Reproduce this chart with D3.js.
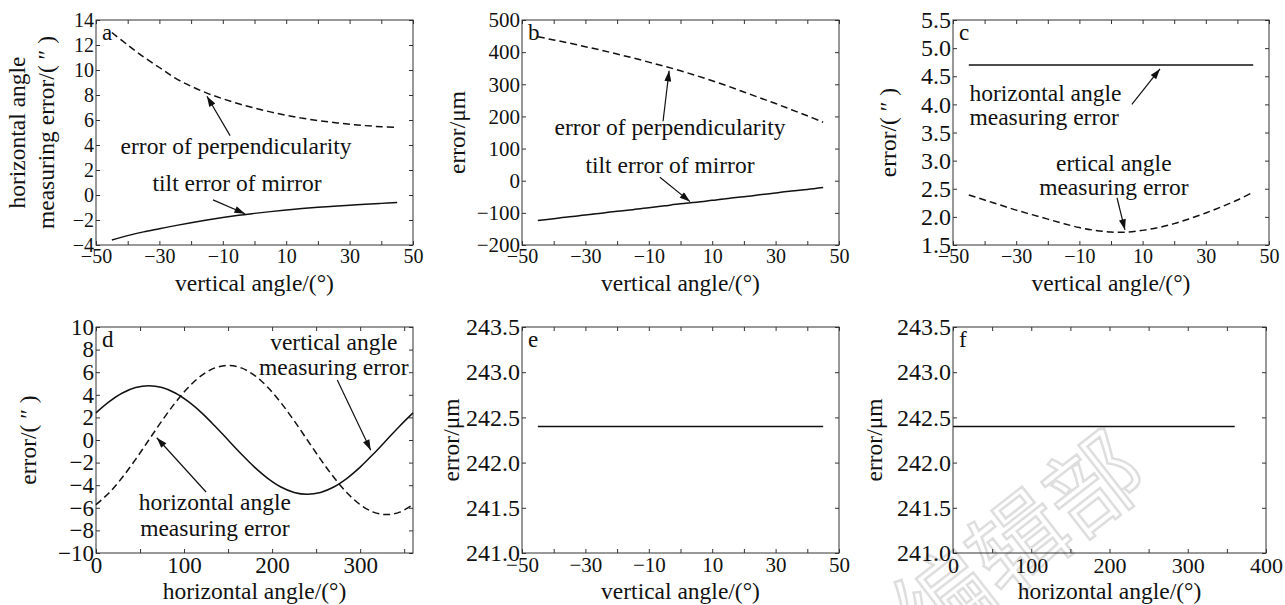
<!DOCTYPE html>
<html>
<head>
<meta charset="utf-8">
<script src="https://cdn.jsdelivr.net/npm/d3@7/dist/d3.min.js"></script>
<style>
    body { margin: 0; background: #fff; }
    svg text { font-family: "Liberation Serif", "Times New Roman", serif; fill: #111; }
</style>
</head>
<body>
<svg id="chart" width="1285" height="605"></svg>
<script>
// --- Data ---
const vAngle = [-45, -40, -35, -30, -25, -20, -15, -10, -5, 0, 5, 10, 15, 20, 25, 30, 35, 40, 45];
const hAngle = [0, 15, 30, 45, 60, 75, 90, 105, 120, 135, 150, 165, 180, 195, 210, 225, 240, 255, 270, 285, 300, 315, 330, 345, 360];
const vEnds = [-45, 45];
const hEnds = [0, 360];

// a: horizontal angle measuring error (″)
const perpA = [13.0, 12.0, 11.05, 10.2, 9.35, 8.7, 8.15, 7.7, 7.3, 6.95, 6.65, 6.38, 6.15, 5.95, 5.8, 5.66, 5.55, 5.46, 5.4];
const tiltA = [-3.6, -3.25, -2.95, -2.7, -2.45, -2.22, -2.0, -1.8, -1.62, -1.47, -1.33, -1.2, -1.08, -0.98, -0.9, -0.82, -0.74, -0.67, -0.6];
// b: error (μm)
const perpB = [448, 438, 428, 417, 406, 394, 382, 369, 356, 342, 327, 311, 294, 276, 258, 240, 221, 202, 182];
const tiltB = [-124, -118, -112, -107, -101, -95, -90, -84, -78, -72, -67, -61, -55, -50, -44, -38, -32, -27, -21];
// c: error (″)
const hErrC = [4.7, 4.7];
const vErrC = [2.39, 2.30, 2.21, 2.12, 2.04, 1.96, 1.88, 1.81, 1.76, 1.73, 1.73, 1.76, 1.81, 1.88, 1.97, 2.07, 2.18, 2.30, 2.44];
// d: error (″) vs horizontal angle
const vErrD = [2.40, 3.39, 4.16, 4.64, 4.80, 4.64, 4.16, 3.39, 2.40, 1.24, 0.0, -1.24, -2.40, -3.39, -4.16, -4.64, -4.80, -4.64, -4.16, -3.39, -2.40, -1.24, 0.0, 1.24, 2.40];
const hErrD = [-5.72, -4.67, -3.30, -1.71, 0.0, 1.71, 3.30, 4.67, 5.72, 6.38, 6.60, 6.38, 5.72, 4.67, 3.30, 1.71, 0.0, -1.71, -3.30, -4.67, -5.72, -6.38, -6.60, -6.38, -5.72];
// e, f: error (μm)
const errE = [242.4, 242.4];
const errF = [242.4, 242.4];

// tick values
const vTicks = [-50, -40, -30, -20, -10, 0, 10, 20, 30, 40, 50];
const vTickLabels = [-50, -30, -10, 10, 30, 50];
const hTicksD = [0, 50, 100, 150, 200, 250, 300, 350];
const hTickLabelsD = [0, 100, 200, 300];
const hTicksF = [0, 50, 100, 150, 200, 250, 300, 350, 400];
const hTickLabelsF = [0, 100, 200, 300, 400];
const yTicksA = [-4, -2, 0, 2, 4, 6, 8, 10, 12, 14];
const yTicksB = [-200, -100, 0, 100, 200, 300, 400, 500];
const yTicksC = [1.5, 2.0, 2.5, 3.0, 3.5, 4.0, 4.5, 5.0, 5.5];
const yTicksD = [-10, -8, -6, -4, -2, 0, 2, 4, 6, 8, 10];
const yTicksEF = [241.0, 241.5, 242.0, 242.5, 243.0, 243.5];

const svg = d3.select("#chart");

// arrow head
svg.append("defs").append("marker")
    .attr("id", "arrow")
    .attr("viewBox", "0 0 12 8")
    .attr("refX", 12).attr("refY", 4)
    .attr("markerWidth", 12).attr("markerHeight", 7)
    .attr("markerUnits", "userSpaceOnUse")
    .attr("orient", "auto")
    .append("path").attr("d", "M0,0 L12,4 L0,8 z").attr("fill", "#111");

// watermark (faint, behind everything)
svg.append("text")
    .attr("transform", "translate(1040,570) rotate(-38)")
    .attr("text-anchor", "middle")
    .style("font-family", "'Noto Sans CJK SC', sans-serif")
    .style("font-size", "95px")
    .style("fill", "#fff")
    .style("stroke", "#dedede")
    .style("stroke-width", 2.5)
    .text("编辑部");

const panels = [
    {
        id: "a", left: 96, top: 20, right: 413, bottom: 245,
        xDomain: [-50, 50], yDomain: [-4, 14], xTicks: vTicks, xLabels: vTickLabels,
        yTicks: yTicksA, yFmt: d3.format("d"), xFont: 20, yFont: 20,
        xTitle: "vertical angle/(°)", yTitle: ["horizontal angle", "measuring error/( ″ )"], yTitleX: [-79, -50],
        series: [
            { x: vAngle, y: perpA, dash: "7,4" },
            { x: vAngle, y: tiltA, dash: null }
        ],
        notes: [
            { x: -5.8, y: 3.95, text: "error of perpendicularity", anchor: "middle" },
            { x: -5.5, y: 0.98, text: "tilt error of mirror", anchor: "middle" }
        ],
        arrows: [
            { from: [-7.7, 4.75], to: [-15, 7.9] },
            { from: [-13.1, -0.39], to: [-3.0, -1.5] }
        ]
    },
    {
        id: "b", left: 522, top: 20, right: 839, bottom: 245,
        xDomain: [-50, 50], yDomain: [-200, 500], xTicks: vTicks, xLabels: vTickLabels,
        yTicks: yTicksB, yFmt: d3.format("d"), xFont: 20, yFont: 21,
        xTitle: "vertical angle/(°)", yTitle: ["error/μm"], yTitleX: [-65],
        series: [
            { x: vAngle, y: perpB, dash: "7,4" },
            { x: vAngle, y: tiltB, dash: null }
        ],
        notes: [
            { x: -3.3, y: 167, text: "error of perpendicularity", anchor: "middle" },
            { x: -3.3, y: 49, text: "tilt error of mirror", anchor: "middle" }
        ],
        arrows: [
            { from: [-5.5, 185], to: [-3.6, 342] },
            { from: [-6.5, 11], to: [3.0, -65] }
        ]
    },
    {
        id: "c", left: 953, top: 20, right: 1269, bottom: 245,
        xDomain: [-50, 50], yDomain: [1.5, 5.5], xTicks: vTicks, xLabels: vTickLabels,
        yTicks: yTicksC, yFmt: d3.format(".1f"), xFont: 20, yFont: 24,
        xTitle: "vertical angle/(°)", yTitle: ["error/( ″ )"], yTitleX: [-65],
        series: [
            { x: vEnds, y: hErrC, dash: null },
            { x: vAngle, y: vErrC, dash: "7,4" }
        ],
        notes: [
            { x: -44.8, y: 4.2, text: "horizontal angle", anchor: "start" },
            { x: -44.8, y: 3.78, text: "measuring error", anchor: "start" },
            { x: 0.9, y: 2.96, text: "ertical angle", anchor: "middle" },
            { x: 0.9, y: 2.53, text: "measuring error", anchor: "middle" }
        ],
        arrows: [
            { from: [6.6, 4.0], to: [15.5, 4.63] },
            { from: [1.9, 2.34], to: [4.4, 1.77] }
        ]
    },
    {
        id: "d", left: 96, top: 327, right: 413, bottom: 553,
        xDomain: [0, 360], yDomain: [-10, 10], xTicks: hTicksD, xLabels: hTickLabelsD,
        yTicks: yTicksD, yFmt: d3.format("d"), xFont: 23, yFont: 23,
        xTitle: "horizontal angle/(°)", yTitle: ["error/( ″ )"], yTitleX: [-68],
        series: [
            { x: hAngle, y: vErrD, dash: null },
            { x: hAngle, y: hErrD, dash: "7,4" }
        ],
        notes: [
            { x: 270, y: 8.67, text: "vertical angle", anchor: "middle" },
            { x: 270, y: 6.46, text: "measuring error", anchor: "middle" },
            { x: 135, y: -5.5, text: "horizontal angle", anchor: "middle" },
            { x: 135, y: -7.8, text: "measuring error", anchor: "middle" }
        ],
        arrows: [
            { from: [274, 5.3], to: [312, -0.9] },
            { from: [125, -4.6], to: [69, 0.2] }
        ]
    },
    {
        id: "e", left: 522, top: 327, right: 839, bottom: 553,
        xDomain: [-50, 50], yDomain: [241, 243.5], xTicks: vTicks, xLabels: vTickLabels,
        yTicks: yTicksEF, yFmt: d3.format(".1f"), xFont: 21, yFont: 24,
        xTitle: "vertical angle/(°)", yTitle: ["error/μm"], yTitleX: [-71],
        series: [{ x: vEnds, y: errE, dash: null }],
        notes: [], arrows: []
    },
    {
        id: "f", left: 953, top: 327, right: 1266, bottom: 553,
        xDomain: [0, 400], yDomain: [241, 243.5], xTicks: hTicksF, xLabels: hTickLabelsF,
        yTicks: yTicksEF, yFmt: d3.format(".1f"), xFont: 22, yFont: 24,
        xTitle: "horizontal angle/(°)", yTitle: ["error/μm"], yTitleX: [-79],
        series: [{ x: hEnds, y: errF, dash: null }],
        notes: [], arrows: []
    }
];

panels.forEach(drawPanel);

function drawPanel(p) {
    const w = p.right - p.left;
    const h = p.bottom - p.top;
    const g = svg.append("g").attr("transform", `translate(${p.left},${p.top})`);

    const x = d3.scaleLinear().domain(p.xDomain).range([0, w]);
    const y = d3.scaleLinear().domain(p.yDomain).range([h, 0]);

    // Axes (ticks point inward on all four sides)
    const fx = d3.format("d");
    const bottom = g.append("g").attr("transform", `translate(0,${h})`)
        .call(d3.axisBottom(x).tickValues(p.xTicks).tickSize(-4).tickPadding(4)
            .tickFormat(v => p.xLabels.includes(v) ? fx(v) : ""));
    g.append("g")
        .call(d3.axisTop(x).tickValues(p.xTicks).tickSize(-4).tickFormat(""));
    const left = g.append("g")
        .call(d3.axisLeft(y).tickValues(p.yTicks).tickSize(-4).tickPadding(2).tickFormat(p.yFmt));
    g.append("g").attr("transform", `translate(${w},0)`)
        .call(d3.axisRight(y).tickValues(p.yTicks).tickSize(-4).tickFormat(""));

    g.selectAll(".domain").remove();
    g.selectAll(".tick line").attr("stroke", "#333");
    bottom.selectAll("text").style("font-size", p.xFont + "px").attr("fill", "#111");
    left.selectAll("text").style("font-size", p.yFont + "px").attr("fill", "#111");

    // frame
    g.append("rect")
        .attr("width", w).attr("height", h)
        .attr("fill", "none").attr("stroke", "#333").attr("stroke-width", 1);

    // series
    const line = d3.line()
        .x(d => x(d[0]))
        .y(d => y(d[1]))
        .curve(d3.curveCatmullRom);
    p.series.forEach(s => {
        g.append("path")
            .datum(s.x.map((v, i) => [v, s.y[i]]))
            .attr("fill", "none")
            .attr("stroke", "#111")
            .attr("stroke-width", 1.5)
            .attr("stroke-dasharray", s.dash)
            .attr("d", line);
    });

    // annotations
    p.notes.forEach(n => {
        g.append("text")
            .attr("x", x(n.x)).attr("y", y(n.y))
            .attr("dy", "0.35em")
            .attr("text-anchor", n.anchor)
            .style("font-size", "23.5px")
            .text(n.text);
    });
    p.arrows.forEach(a => {
        g.append("line")
            .attr("x1", x(a.from[0])).attr("y1", y(a.from[1]))
            .attr("x2", x(a.to[0])).attr("y2", y(a.to[1]))
            .attr("stroke", "#111").attr("stroke-width", 1.2)
            .attr("marker-end", "url(#arrow)");
    });

    // panel letter
    g.append("text")
        .attr("x", 6).attr("y", 20)
        .style("font-size", "23px")
        .text(p.id);

    // axis titles
    g.append("text")
        .attr("x", w / 2).attr("y", h + 38)
        .attr("dy", "0.35em")
        .attr("text-anchor", "middle")
        .style("font-size", "23.5px")
        .text(p.xTitle);
    p.yTitle.forEach((t, i) => {
        g.append("text")
            .attr("transform", `translate(${p.yTitleX[i]},${h / 2}) rotate(-90)`)
            .attr("dy", "0.35em")
            .attr("text-anchor", "middle")
            .style("font-size", "23.5px")
            .text(t);
    });
}
</script>
</body>
</html>
